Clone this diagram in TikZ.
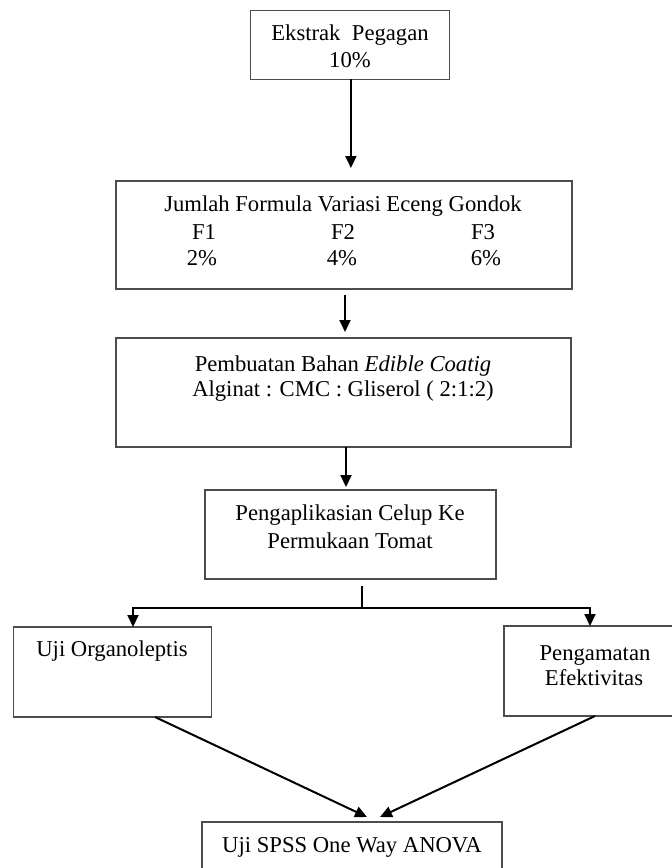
\documentclass[tikz,border=0pt]{standalone}
\usepackage{fontspec}
\setmainfont{Liberation Serif}
\usetikzlibrary{arrows.meta}
\begin{document}
\begin{tikzpicture}[x=0.5pt,y=-0.5pt,
  font=\fontsize{11.33pt}{13.5pt}\selectfont,
  box/.style={draw=black!70, line width=0.6pt, inner sep=0pt, outer sep=0pt, fill=none},
  txt/.style={anchor=base, inner sep=0pt, outer sep=0pt},
  conn/.style={draw=black, line width=1pt},
  arr/.style={conn, -{Triangle[width=5.5pt,length=6pt]}}]
\useasboundingbox (0,0) rectangle (672,868);
\clip (0,0) rectangle (672,868);
\fill[white] (0,0) rectangle (672,868);
% boxes
\node[box, minimum width=99.2pt, minimum height=34.2pt] (b1) at (349.9,44.9) {};
\node[box, minimum width=228pt, minimum height=54pt] (b2) at (344,235) {};
\node[box, minimum width=227.5pt, minimum height=54.5pt] (b3) at (343.5,392.5) {};
\node[box, minimum width=145.5pt, minimum height=44.5pt] (b4) at (350.5,534.5) {};
\node[box, minimum width=98.9pt, minimum height=45pt] (b5) at (112.2,672) {};
\node[box, minimum width=91pt, minimum height=45pt] (b6) at (595,671) {};
\node[box, minimum width=150pt, minimum height=31pt] (b7) at (352,853) {};
% texts
\node[txt] (t1a) at (350,40.7) {Ekstrak\ \ Pegagan};
\node[txt] (t1b) at (350,67) {10\%};
\node[txt] (t2a) at (343,211.5) {Jumlah Formula Variasi Eceng Gondok};
\node[txt] (t2b) at (204,239) {F1};
\node[txt] (t2c) at (343,239) {F2};
\node[txt] (t2d) at (483,239) {F3};
\node[txt] (t2e) at (202,265) {2\%};
\node[txt] (t2f) at (342,265) {4\%};
\node[txt] (t2g) at (486,265) {6\%};
\node[txt] (t3a) at (343,371) {Pembuatan Bahan \textit{Edible Coatig}};
\node[txt] (t3b) at (343,396.7) {Alginat : CMC : Gliserol ( 2:1:2)};
\node[txt] (t4a) at (350,520) {Pengaplikasian Celup Ke};
\node[txt] (t4b) at (350,548) {Permukaan Tomat};
\node[txt] (t5a) at (112,656.7) {Uji Organoleptis};
\node[txt] (t6a) at (595,660) {Pengamatan};
\node[txt] (t6b) at (594,685) {Efektivitas};
\node[txt] (t7a) at (352,852.7) {Uji SPSS One Way ANOVA};
% connectors
\draw[arr, shorten >=6.5pt] ([xshift=0.5pt]b1.south) -- ([xshift=0.5pt]b1.south |- b2.north);
\draw[arr, shorten <=3pt, shorten >=3pt] ([xshift=0.5pt]b2.south) -- ([xshift=0.5pt]b2.south |- b3.north);
\draw[arr, shorten >=1.5pt] ([xshift=1.25pt]b3.south) -- ([xshift=1.25pt]b3.south |- b4.north);
\coordinate (sp) at (362,608);
\coordinate (lft) at (133,608);
\coordinate (rgt) at (590,608);
\draw[conn, shorten <=3.5pt] (b4.south -| sp) -- (sp);
\draw[arr] (sp) -| (b5.north -| lft);
\draw[arr] (sp) -| (b6.north -| rgt);
\draw[arr] ([xshift=21.4pt]b5.south) -- ([xshift=7.5pt,yshift=2.5pt]b7.north);
\draw[arr] (b6.south) -- ([xshift=14pt,yshift=2.5pt]b7.north);
\end{tikzpicture}
\end{document}
